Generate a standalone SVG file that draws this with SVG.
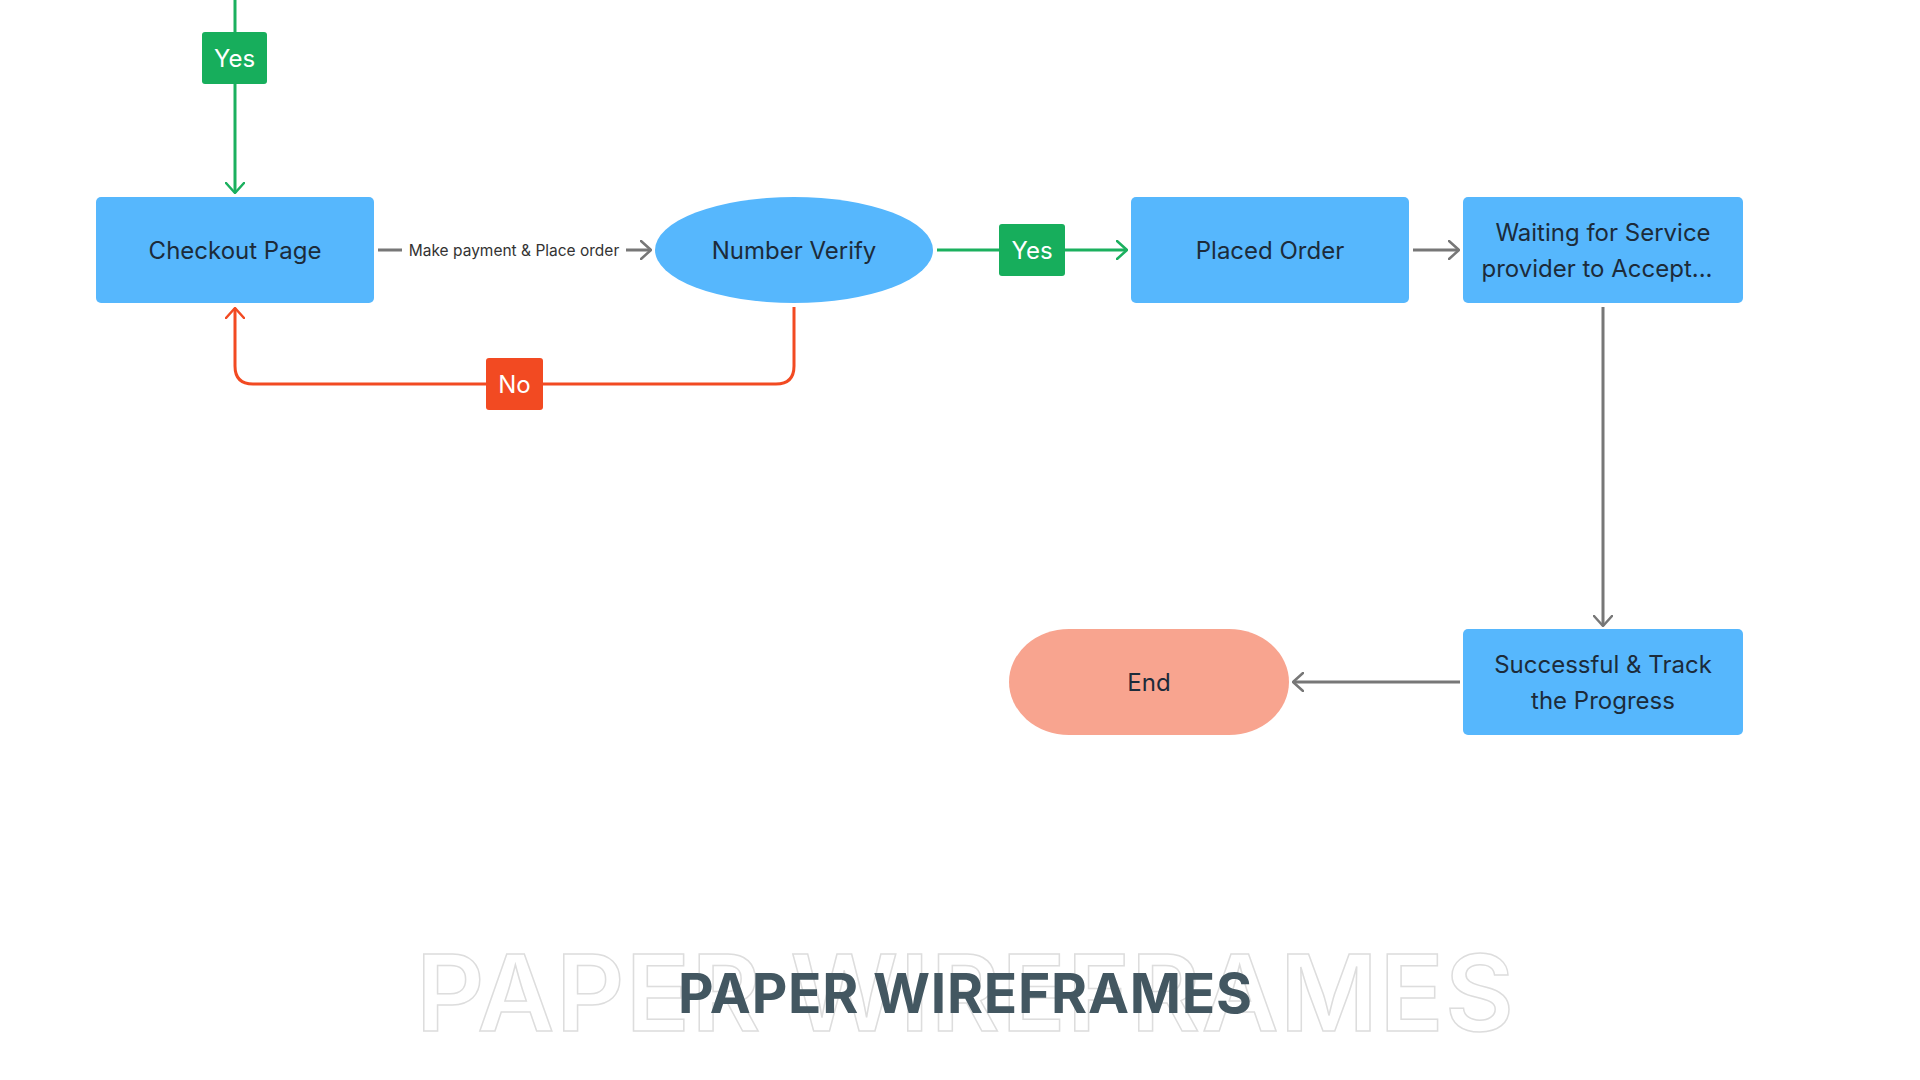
<svg xmlns="http://www.w3.org/2000/svg" width="1920" height="1080" viewBox="0 0 1920 1080">
  <defs>
    <style>
      .node { fill: #56b7fd; }
      .end { fill: #f8a48f; }
      .ntext { font-family: Inter, "Liberation Sans", sans-serif; font-size: 24px; fill: #1c2b3a; text-anchor: middle; dominant-baseline: central; }
      .ltext { font-family: Inter, "Liberation Sans", sans-serif; font-size: 24px; fill: #ffffff; text-anchor: middle; dominant-baseline: central; }
      .ctext { font-family: Inter, "Liberation Sans", sans-serif; font-size: 15.5px; fill: #333333; text-anchor: middle; dominant-baseline: central; }
      .green { stroke: #1bb05e; stroke-width: 3; fill: none; }
      .gray { stroke: #777777; stroke-width: 3; fill: none; }
      .red { stroke: #f24a22; stroke-width: 3; fill: none; }
      .gbox { fill: #17ae5c; }
      .rbox { fill: #f24a22; }
    </style>
    <marker id="ag" viewBox="0 0 12 20" refX="11" refY="10" markerWidth="12" markerHeight="20" markerUnits="userSpaceOnUse" orient="auto">
      <path d="M1,1 L11,10 L1,19" fill="none" stroke="#1bb05e" stroke-width="2.5" stroke-linecap="round" stroke-linejoin="round"/>
    </marker>
    <marker id="ay" viewBox="0 0 12 20" refX="11" refY="10" markerWidth="12" markerHeight="20" markerUnits="userSpaceOnUse" orient="auto">
      <path d="M1,1 L11,10 L1,19" fill="none" stroke="#777777" stroke-width="2.5" stroke-linecap="round" stroke-linejoin="round"/>
    </marker>
    <marker id="ar" viewBox="0 0 12 20" refX="11" refY="10" markerWidth="12" markerHeight="20" markerUnits="userSpaceOnUse" orient="auto">
      <path d="M1,1 L11,10 L1,19" fill="none" stroke="#f24a22" stroke-width="2.5" stroke-linecap="round" stroke-linejoin="round"/>
    </marker>
  </defs>
  <rect width="1920" height="1080" fill="#ffffff"/>

  <g id="title">
    <text x="965" y="1031" text-anchor="middle" font-family="Inter, 'Liberation Sans', sans-serif" font-size="106" font-weight="600" fill="none" stroke="#dddddd" stroke-width="1.5" textLength="1098" lengthAdjust="spacing">PAPER WIREFRAMES</text>
    <text x="965" y="1013" text-anchor="middle" font-family="Inter, 'Liberation Sans', sans-serif" font-size="55" font-weight="700" fill="#435761" textLength="574" lengthAdjust="spacing">PAPER WIREFRAMES</text>
  </g>

  <g id="connectors">
    <path class="green" d="M235,0 V193" marker-end="url(#ag)"/>
    <path class="gray" d="M378,250 H651" marker-end="url(#ay)"/>
    <path class="green" d="M937,250 H1127" marker-end="url(#ag)"/>
    <path class="gray" d="M1413,250 H1459" marker-end="url(#ay)"/>
    <path class="gray" d="M1603,307 V626" marker-end="url(#ay)"/>
    <path class="gray" d="M1460,682 H1293" marker-end="url(#ay)"/>
    <path class="red" d="M794,307 V366 Q794,384 776,384 H253 Q235,384 235,366 V308" marker-end="url(#ar)"/>
    <g id="label-make-payment">
      <rect x="402" y="238" width="224" height="24" fill="#ffffff"/>
      <text class="ctext" x="514" y="250">Make payment &amp; Place order</text>
    </g>
    <g id="label-yes-top">
      <rect class="gbox" x="202" y="32" width="65" height="52" rx="3"/>
      <text class="ltext" x="234.5" y="58">Yes</text>
    </g>
    <g id="label-yes-mid">
      <rect class="gbox" x="999" y="224" width="66" height="52" rx="3"/>
      <text class="ltext" x="1032" y="250">Yes</text>
    </g>
    <g id="label-no">
      <rect class="rbox" x="486" y="358" width="57" height="52" rx="3"/>
      <text class="ltext" x="514.5" y="384">No</text>
    </g>
  </g>

  <g id="node-checkout">
    <rect class="node" x="96" y="197" width="278" height="106" rx="5"/>
    <text class="ntext" x="235" y="250">Checkout Page</text>
  </g>
  <g id="node-number-verify">
    <ellipse class="node" cx="794" cy="250" rx="139" ry="53"/>
    <text class="ntext" x="794" y="250">Number Verify</text>
  </g>
  <g id="node-placed-order">
    <rect class="node" x="1131" y="197" width="278" height="106" rx="5"/>
    <text class="ntext" x="1270" y="250">Placed Order</text>
  </g>
  <g id="node-waiting">
    <rect class="node" x="1463" y="197" width="280" height="106" rx="5"/>
    <text class="ntext" x="1603" y="232">Waiting for Service</text>
    <text class="ntext" x="1597" y="268">provider to Accept...</text>
  </g>
  <g id="node-successful">
    <rect class="node" x="1463" y="629" width="280" height="106" rx="5"/>
    <text class="ntext" x="1603" y="664">Successful &amp; Track</text>
    <text class="ntext" x="1603" y="700">the Progress</text>
  </g>
  <g id="node-end">
    <rect class="end" x="1009" y="629" width="280" height="106" rx="60" ry="53"/>
    <text class="ntext" x="1149" y="682">End</text>
  </g>
</svg>
